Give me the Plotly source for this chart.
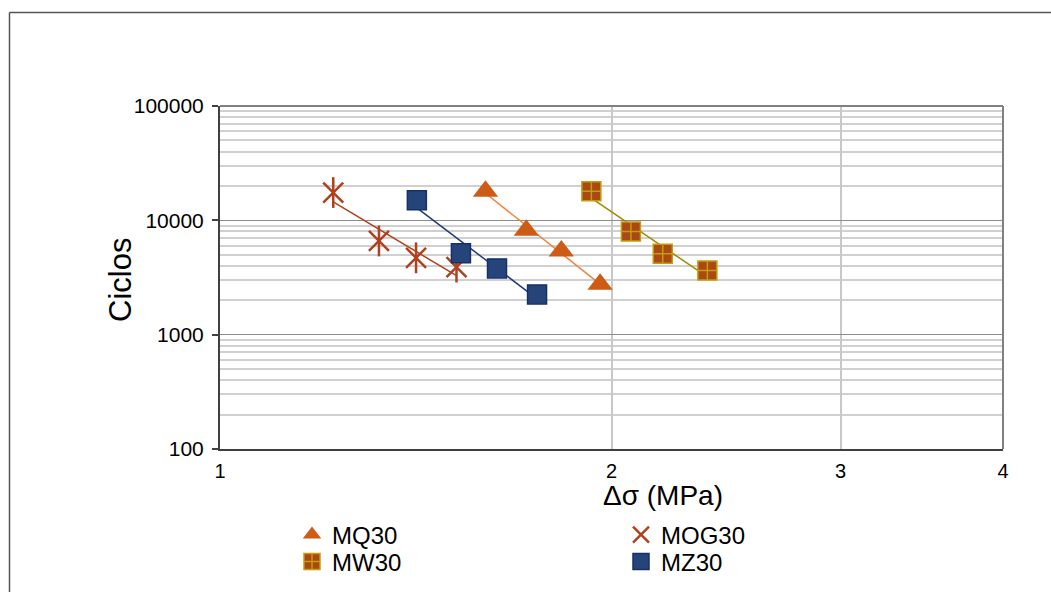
import numpy as np
import plotly.graph_objects as go

# ---- data ----
mq30_x = [1.60, 1.72, 1.83, 1.96]
mq30_y = [18000, 8200, 5400, 2760]

mog30_x = [1.222, 1.325, 1.415, 1.52]
mog30_y = [17500, 6600, 4700, 3900]

mw30_x = [1.93, 2.07, 2.19, 2.37]
mw30_y = [18000, 8000, 5100, 3650]

mz30_x = [1.417, 1.532, 1.633, 1.753]
mz30_y = [15000, 5150, 3800, 2250]

x_ticks = [1, 2, 3, 4]
y_ticks = [100, 1000, 10000, 100000]
y_minor = [m * d for d in [100, 1000, 10000] for m in range(2, 10)]

FONT = "Liberation Sans, Arial, sans-serif"

# plot area in pixels (used only to convert layout positions to paper coords)
L, R, T, B = 220, 1003, 106, 449
PW, PH = R - L, B - T


def px(x):
    return (x - L) / PW


def py(y):
    return (B - y) / PH


def power_fit(xs, ys):
    lx, ly = np.log10(xs), np.log10(ys)
    b, a = np.polyfit(lx, ly, 1)
    xf = np.array([min(xs), max(xs)])
    return xf, 10 ** (a + b * np.log10(xf))


fig = go.Figure()

# trend lines
for xs, ys, col in [(mog30_x, mog30_y, "#B0401E"),
                    (mz30_x, mz30_y, "#1F3A78"),
                    (mq30_x, mq30_y, "#F0823E"),
                    (mw30_x, mw30_y, "#A08A00")]:
    xf, yf = power_fit(xs, ys)
    fig.add_trace(go.Scatter(x=xf, y=yf, mode="lines", showlegend=False,
                             line=dict(color=col, width=1.5), hoverinfo="skip"))

# markers
fig.add_trace(go.Scatter(x=mq30_x, y=mq30_y, mode="markers", name="MQ30", legend="legend",
                         marker=dict(symbol="triangle-up", size=22, color="#CC5C16",
                                     line=dict(color="#CC5C16", width=0))))
fig.add_trace(go.Scatter(x=mw30_x, y=mw30_y, mode="markers", name="MW30", legend="legend2",
                         marker=dict(symbol="square-cross", size=19, color="#A84A12",
                                     line=dict(color="#C89A10", width=1.5))))
fig.add_trace(go.Scatter(x=mog30_x, y=mog30_y, mode="markers", name="MOG30", legend="legend3",
                         marker=dict(symbol="x-thin-open", size=20, color="#B0401E",
                                     line=dict(color="#B0401E", width=2.5))))
fig.add_trace(go.Scatter(x=mog30_x, y=mog30_y, mode="markers", showlegend=False,
                         marker=dict(symbol="line-ns-open", size=22, color="#B0401E",
                                     line=dict(color="#B0401E", width=2.5))))
fig.add_trace(go.Scatter(x=mz30_x, y=mz30_y, mode="markers", name="MZ30", legend="legend4",
                         marker=dict(symbol="square", size=19, color="#24447A",
                                     line=dict(color="#17306A", width=1.5))))

leg_common = dict(xanchor="left", yanchor="middle", font=dict(size=24, family=FONT),
                  bgcolor="rgba(0,0,0,0)", tracegroupgap=0)

fig.update_layout(
    width=1051, height=592,
    margin=dict(l=L, r=1051 - R, t=T, b=592 - B, autoexpand=False),
    paper_bgcolor="white", plot_bgcolor="white",
    font=dict(family=FONT, color="black"),
    showlegend=True,
    legend=dict(x=px(292), y=py(535), **leg_common),
    legend2=dict(x=px(292), y=py(562), **leg_common),
    legend3=dict(x=px(621), y=py(535), **leg_common),
    legend4=dict(x=px(621), y=py(562), **leg_common),
    xaxis=dict(type="log", range=[0, np.log10(4)],
               tickvals=x_ticks, ticktext=[str(v) for v in x_ticks],
               tickfont=dict(size=20, family=FONT),
               showgrid=True, gridcolor="#C8C8C8", gridwidth=2,
               showline=True, linecolor="#404040", linewidth=2,
               ticks="", ticklabelstandoff=3, zeroline=False),
    yaxis=dict(type="log", range=[2, 5],
               tickvals=y_ticks, ticktext=[str(v) for v in y_ticks],
               tickfont=dict(size=21, family=FONT),
               showgrid=True, gridcolor="#8C8C8C", gridwidth=1,
               showline=True, linecolor="#404040", linewidth=2,
               ticks="outside", ticklen=6, tickcolor="#404040", tickwidth=1.5,
               ticklabelstandoff=4,
               minor=dict(tickvals=y_minor, showgrid=True, gridcolor="#D0D0D0",
                          gridwidth=1.5, ticks=""),
               zeroline=False),
    annotations=[
        dict(text="\u0394\u03c3 (MPa)", xref="paper", yref="paper",
             x=px(663), y=py(495), xanchor="center", yanchor="middle",
             showarrow=False, font=dict(size=28, family=FONT)),
        dict(text="Ciclos", xref="paper", yref="paper", textangle=-90,
             x=px(120), y=py(280), xanchor="center", yanchor="middle",
             showarrow=False, font=dict(size=31, family=FONT)),
    ],
    shapes=[
        # plot area top and right borders
        dict(type="line", xref="paper", yref="paper", x0=0, x1=1, y0=1, y1=1,
             line=dict(color="#808080", width=2)),
        dict(type="line", xref="paper", yref="paper", x0=1, x1=1, y0=0, y1=1,
             line=dict(color="#808080", width=2)),
        # outer chart frame (top and left edges)
        dict(type="line", xref="paper", yref="paper",
             x0=px(9.5), x1=px(1055), y0=py(12.5), y1=py(12.5),
             line=dict(color="#555555", width=1.5)),
        dict(type="line", xref="paper", yref="paper",
             x0=px(9.5), x1=px(9.5), y0=py(12.5), y1=py(600),
             line=dict(color="#555555", width=1.5)),
    ],
)

fig.write_html("out.html")
